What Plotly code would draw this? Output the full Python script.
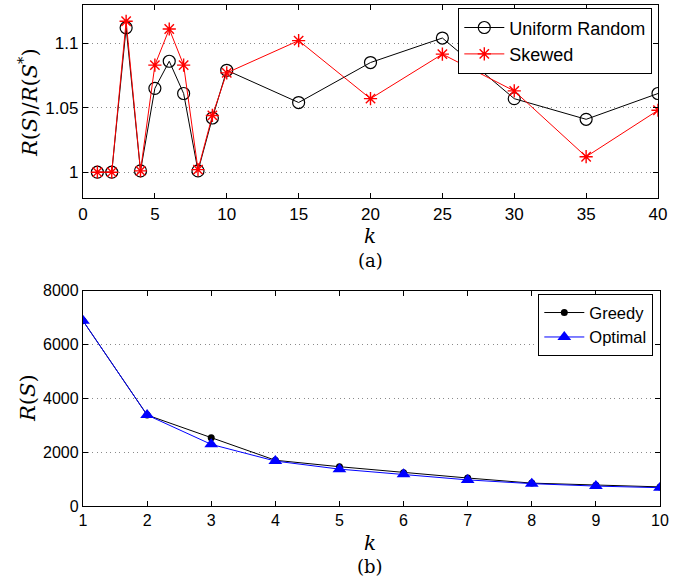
import plotly.graph_objects as go

# ---- data (a)
k_a = [1, 2, 3, 4, 5, 6, 7, 8, 9, 10, 15, 20, 25, 30, 35, 40]
uniform = [1.0, 1.0, 1.112, 1.001, 1.065, 1.086, 1.061, 1.001, 1.042, 1.079,
           1.054, 1.085, 1.104, 1.057, 1.041, 1.061]
skewed = [1.0, 1.0, 1.117, 1.001, 1.083, 1.111, 1.083, 1.002, 1.044, 1.077,
          1.102, 1.057, 1.0915, 1.063, 1.012, 1.048]

# ---- data (b)
k_b = [1, 2, 3, 4, 5, 6, 7, 8, 9, 10]
greedy = [6880, 3380, 2540, 1700, 1460, 1240, 1040, 850, 770, 710]
optimal = [6880, 3380, 2290, 1670, 1370, 1180, 970, 830, 740, 680]

ticks_a_x = [0, 5, 10, 15, 20, 25, 30, 35, 40]
ticks_a_y = [1, 1.05, 1.1]
ticklabels_a_y = ["1", "1.05", "1.1"]
ticks_b_x = list(range(1, 11))
ticks_b_y = [0, 2000, 4000, 6000, 8000]

FONT = "Liberation Sans"
SERIF = "DejaVu Serif"

fig = go.Figure()
fig.add_trace(go.Scatter(
    x=k_a, y=uniform, name="Uniform Random", mode="lines+markers",
    line=dict(color="black", width=1),
    marker=dict(symbol="circle-open", size=12, color="black", line=dict(width=1.2)),
    xaxis="x", yaxis="y", legend="legend"))
fig.add_trace(go.Scatter(
    x=k_a, y=skewed, name="Skewed", mode="lines+markers",
    line=dict(color="red", width=1),
    marker=dict(symbol="asterisk-open", size=11, color="red", line=dict(width=1.4, color="red")),
    xaxis="x", yaxis="y", legend="legend"))
fig.add_trace(go.Scatter(
    x=k_b, y=greedy, name="Greedy", mode="lines+markers",
    line=dict(color="black", width=1),
    marker=dict(symbol="circle", size=7, color="black"),
    xaxis="x2", yaxis="y2", legend="legend2"))
fig.add_trace(go.Scatter(
    x=k_b, y=optimal, name="Optimal", mode="lines+markers",
    line=dict(color="blue", width=1),
    marker=dict(symbol="triangle-up", size=12, color="blue"),
    xaxis="x2", yaxis="y2", legend="legend2"))

def axis_common(fs):
    return dict(showline=True, linecolor="black", linewidth=1.3, mirror="ticks",
                ticks="inside", ticklen=5, tickcolor="black", zeroline=False,
                tickfont=dict(family=FONT, size=fs, color="black"))

GRID = dict(showgrid=True, gridcolor="#8a8a8a", griddash="1px,3.5px", gridwidth=1)

fig.update_layout(
    width=686, height=579,
    margin=dict(l=0, r=0, t=0, b=0, autoexpand=False),
    paper_bgcolor="white", plot_bgcolor="white",
    showlegend=True,
    xaxis=dict(domain=[83/686, 658/686], range=[0, 40], tickvals=ticks_a_x,
               showgrid=False, anchor="y", **axis_common(17)),
    yaxis=dict(domain=[1-198/579, 1-5/579], range=[0.98, 1.1296], tickvals=ticks_a_y,
               ticktext=ticklabels_a_y, anchor="x", **GRID, **axis_common(17)),
    xaxis2=dict(domain=[83/686, 660/686], range=[1, 10], tickvals=ticks_b_x,
                showgrid=False, anchor="y2", **axis_common(16)),
    yaxis2=dict(domain=[1-506/579, 1-290.7/579], range=[0, 8000], tickvals=ticks_b_y,
                anchor="x2", **GRID, **axis_common(16)),
    legend=dict(x=652/686, y=1-8/579, xanchor="right", yanchor="top",
                bgcolor="white", bordercolor="black", borderwidth=1.3,
                font=dict(family=FONT, size=18, color="black"),
                tracegroupgap=0, itemwidth=40),
    legend2=dict(x=653/686, y=1-294/579, xanchor="right", yanchor="top",
                 bgcolor="white", bordercolor="black", borderwidth=1.3,
                 font=dict(family=FONT, size=16.5, color="black"),
                 tracegroupgap=0, itemwidth=40),
)

ann = [
    dict(text="<i>R</i>(<i>S</i>)/<i>R</i>(<i>S</i><sup>*</sup>)", x=28/686, y=1-102/579,
         textangle=-90, font=dict(family=SERIF, size=21)),
    dict(text="<i>k</i>", x=370/686, y=1-236/579, font=dict(family=SERIF, size=20)),
    dict(text="(a)", x=370/686, y=1-260/579, font=dict(family=SERIF, size=18)),
    dict(text="<i>R</i>(<i>S</i>)", x=28/686, y=1-398/579,
         textangle=-90, font=dict(family=SERIF, size=21)),
    dict(text="<i>k</i>", x=370/686, y=1-543/579, font=dict(family=SERIF, size=20)),
    dict(text="(b)", x=370/686, y=1-566/579, font=dict(family=SERIF, size=18)),
]
for a in ann:
    fig.add_annotation(xref="paper", yref="paper", showarrow=False,
                       xanchor="center", yanchor="middle", **{**a, "font": dict(color="black", **a["font"])})

fig.write_html("out.html", config={"displayModeBar": False},
               post_script="document.body.style.margin='0';document.body.style.overflow='hidden';")
